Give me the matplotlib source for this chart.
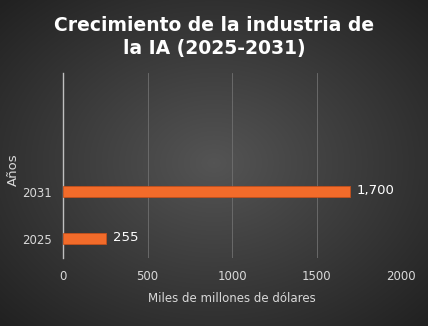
import numpy as np
import matplotlib.pyplot as plt

# --- Data ---
years = ['2025', '2031']
values = [255, 1700]
value_labels = ['255', '1,700']

BAR_COLOR = '#f26b2a'
TEXT_COLOR = '#d9d9d9'

fig = plt.figure(figsize=(4.28, 3.26), dpi=100)

# Radial gradient background
bg = fig.add_axes([0, 0, 1, 1], zorder=0)
yy, xx = np.mgrid[-1:1:326j, -1:1:428j]
r = np.sqrt((xx * 0.95) ** 2 + (yy * 0.95) ** 2)
shade = np.clip(0.33 - 0.15 * r, 0.13, 0.36)
bg.imshow(np.dstack([shade] * 3), aspect='auto', extent=[0, 1, 0, 1])
bg.axis('off')

ax = fig.add_axes([63 / 428, 1 - 258 / 326, (401 - 63) / 428, (258 - 73) / 326], zorder=1)
ax.patch.set_alpha(0)

pos = np.arange(len(years))
ax.barh(pos, values, height=0.23, color=BAR_COLOR, edgecolor='#c4501c', linewidth=0.6, zorder=3)
for p, v, lab in zip(pos, values, value_labels):
    ax.text(v + 40, p + 0.02, lab, color='white', fontsize=9.5, va='center', ha='left', zorder=4)

ax.set_xlim(0, 2000)
ax.set_ylim(-0.41, 3.53)
ax.set_xticks([0, 500, 1000, 1500, 2000])
ax.set_yticks(pos)
ax.set_yticklabels(years)
ax.tick_params(axis='both', length=0, colors=TEXT_COLOR, labelsize=8.5)
ax.tick_params(axis='x', pad=9)
ax.tick_params(axis='y', pad=8)
ax.grid(axis='x', color='#707070', linewidth=0.6, zorder=0)
for side in ['top', 'right', 'bottom']:
    ax.spines[side].set_visible(False)
ax.spines['left'].set_color('#bfbfbf')
ax.spines['left'].set_linewidth(1.0)

ax.set_xlabel('Miles de millones de dólares', color=TEXT_COLOR, fontsize=8.5, labelpad=6)
ax.set_ylabel('Años', color=TEXT_COLOR, fontsize=9.5)
ax.yaxis.set_label_coords(-43 / 338, 0.48)

fig.text(0.5, 1 - 37 / 326, 'Crecimiento de la industria de\nla IA (2025-2031)',
         ha='center', va='center', color='white', fontsize=13.5, fontweight='bold',
         linespacing=1.25)

fig.savefig('out.png', dpi=100)
